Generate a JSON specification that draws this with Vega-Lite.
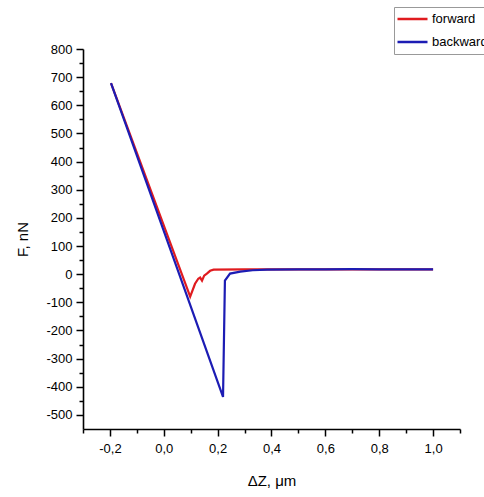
{
  "$schema": "https://vega.github.io/schema/vega-lite/v6.json",
  "width": 377,
  "height": 380,
  "autosize": "none",
  "padding": {"left": 83, "top": 49, "right": 24, "bottom": 68},
  "background": "white",
  "config": {
    "view": {"stroke": null},
    "font": "Liberation Sans",
    "axis": {
      "grid": false,
      "domainColor": "black",
      "domainWidth": 1.6,
      "tickColor": "black",
      "tickWidth": 1.5,
      "labelFont": "Liberation Sans",
      "labelFontSize": 13,
      "labelColor": "black",
      "titleFont": "Liberation Sans",
      "titleFontSize": 15,
      "titleFontWeight": "normal",
      "titleColor": "black"
    }
  },
  "data": {
    "values": [
      {"x": -0.196, "F": 679, "dir": "forward"},
      {"x": 0.098, "F": -80, "dir": "forward"},
      {"x": 0.116, "F": -34, "dir": "forward"},
      {"x": 0.128, "F": -16, "dir": "forward"},
      {"x": 0.135, "F": -12, "dir": "forward"},
      {"x": 0.142, "F": -23, "dir": "forward"},
      {"x": 0.15, "F": -5, "dir": "forward"},
      {"x": 0.16, "F": 2, "dir": "forward"},
      {"x": 0.172, "F": 12, "dir": "forward"},
      {"x": 0.185, "F": 16, "dir": "forward"},
      {"x": 0.3, "F": 17, "dir": "forward"},
      {"x": 0.5, "F": 17, "dir": "forward"},
      {"x": 0.7, "F": 17, "dir": "forward"},
      {"x": 1.0, "F": 17, "dir": "forward"},
      {"x": -0.196, "F": 679, "dir": "backward"},
      {"x": 0.22, "F": -436, "dir": "backward"},
      {"x": 0.227, "F": -23, "dir": "backward"},
      {"x": 0.246, "F": 2, "dir": "backward"},
      {"x": 0.284, "F": 9, "dir": "backward"},
      {"x": 0.33, "F": 14, "dir": "backward"},
      {"x": 0.384, "F": 16, "dir": "backward"},
      {"x": 0.5, "F": 17, "dir": "backward"},
      {"x": 0.6, "F": 17, "dir": "backward"},
      {"x": 0.7, "F": 18, "dir": "backward"},
      {"x": 0.8, "F": 17, "dir": "backward"},
      {"x": 1.0, "F": 17, "dir": "backward"}
    ]
  },
  "encoding": {
    "x": {
      "field": "x",
      "type": "quantitative",
      "scale": {"domain": [-0.3, 1.1], "nice": false, "zero": false},
      "axis": {
        "title": "ΔZ, μm",
        "values": [-0.3, -0.2, -0.1, 0, 0.1, 0.2, 0.3, 0.4, 0.5, 0.6, 0.7, 0.8, 0.9, 1.0, 1.1],
        "labelExpr": "abs(datum.value*10 - round(datum.value*10)) < 0.01 && round(datum.value*10) % 2 == 0 && datum.value < 1.05 ? replace(replace(format(datum.value, '.1f'), '.', ','), '−', '-') : ''",
        "tickSize": {"condition": {"test": "round(datum.value*10) % 2 == 0", "value": 7}, "value": 4},
        "labelPadding": 6,
        "titlePadding": 18,
        "labelFlush": false,
        "labelOverlap": false
      }
    },
    "y": {
      "field": "F",
      "type": "quantitative",
      "scale": {"domain": [-550, 800], "nice": false, "zero": false},
      "axis": {
        "title": "F, nN",
        "values": [-500, -450, -400, -350, -300, -250, -200, -150, -100, -50, 0, 50, 100, 150, 200, 250, 300, 350, 400, 450, 500, 550, 600, 650, 700, 750, 800],
        "labelExpr": "datum.value % 100 == 0 ? '' + datum.value : ''",
        "tickSize": {"condition": {"test": "datum.value % 100 == 0", "value": 7}, "value": 4},
        "labelPadding": 4,
        "titlePadding": 15,
        "labelFlush": false,
        "labelOverlap": false
      }
    },
    "color": {
      "field": "dir",
      "type": "nominal",
      "scale": {"domain": ["forward", "backward"], "range": ["#e01b1f", "#1c1cb4"]},
      "legend": {
        "title": null,
        "orient": "none",
        "legendX": 311,
        "legendY": -42,
        "symbolType": "stroke",
        "symbolSize": 900,
        "symbolStrokeWidth": 2.5,
        "clipHeight": 20,
        "rowPadding": 3,
        "padding": 2,
        "labelOffset": 3,
        "labelFont": "Liberation Sans",
        "labelFontSize": 13,
        "labelColor": "black",
        "strokeColor": "#999999",
        "fillColor": "white"
      }
    }
  },
  "layer": [
    {
      "transform": [{"filter": "datum.dir == 'forward'"}],
      "mark": {"type": "line", "strokeWidth": 2.2}
    },
    {
      "transform": [{"filter": "datum.dir == 'backward'"}],
      "mark": {"type": "line", "strokeWidth": 2.2}
    }
  ]
}
